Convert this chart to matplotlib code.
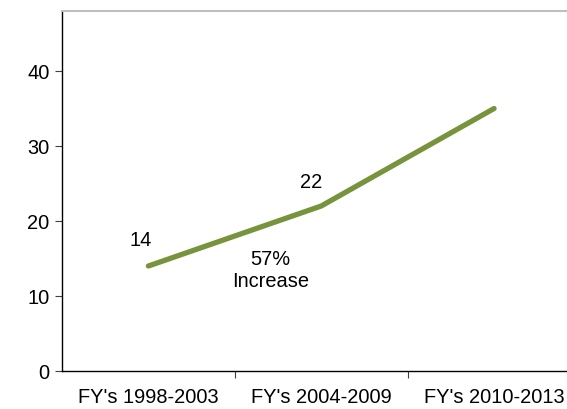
import matplotlib
matplotlib.use("Agg")
import matplotlib.pyplot as plt

plt.rcParams['font.family'] = ['Liberation Sans', 'DejaVu Sans']

categories = ["FY's 1998-2003", "FY's 2004-2009", "FY's 2010-2013"]
values = [14, 22, 35]
y_ticks = [0, 10, 20, 30, 40]

fs = 14.4

fig = plt.figure(figsize=(5.67, 4.09), dpi=100)
ax = fig.add_axes([0.1093, 0.0929, 0.9145, 0.8802])

x = list(range(len(categories)))
ax.plot(x, values, color='#77933C', linewidth=3.8, solid_capstyle='round', solid_joinstyle='round')

ax.set_xlim(-0.5, 2.5)
ax.set_ylim(0, 48)
ax.set_yticks(y_ticks)
ax.set_xticks(x)
ax.set_xticklabels(categories)
ax.set_xticks([0.5, 1.5], minor=True)
ax.tick_params(axis='x', which='major', length=0, pad=12, labelsize=fs)
ax.tick_params(axis='x', which='minor', length=5, width=0.8, color='#404040')
ax.tick_params(axis='y', length=5, width=0.8, color='#404040', pad=4, labelsize=fs)

for s in ['left', 'bottom']:
    ax.spines[s].set_color('black')
    ax.spines[s].set_linewidth(1.0)
ax.spines['top'].set_color('#BFBFBF')
ax.spines['top'].set_linewidth(1.5)
ax.spines['right'].set_visible(False)

ax.text(-0.046, 17.4, "14", ha='center', va='center', fontsize=fs)
ax.text(0.942, 25.2, "22", ha='center', va='center', fontsize=fs)
ax.text(0.705, 13.4, "57%\nIncrease", ha='center', va='center', fontsize=fs, linespacing=1.2)

fig.savefig("out.png", dpi=100)
